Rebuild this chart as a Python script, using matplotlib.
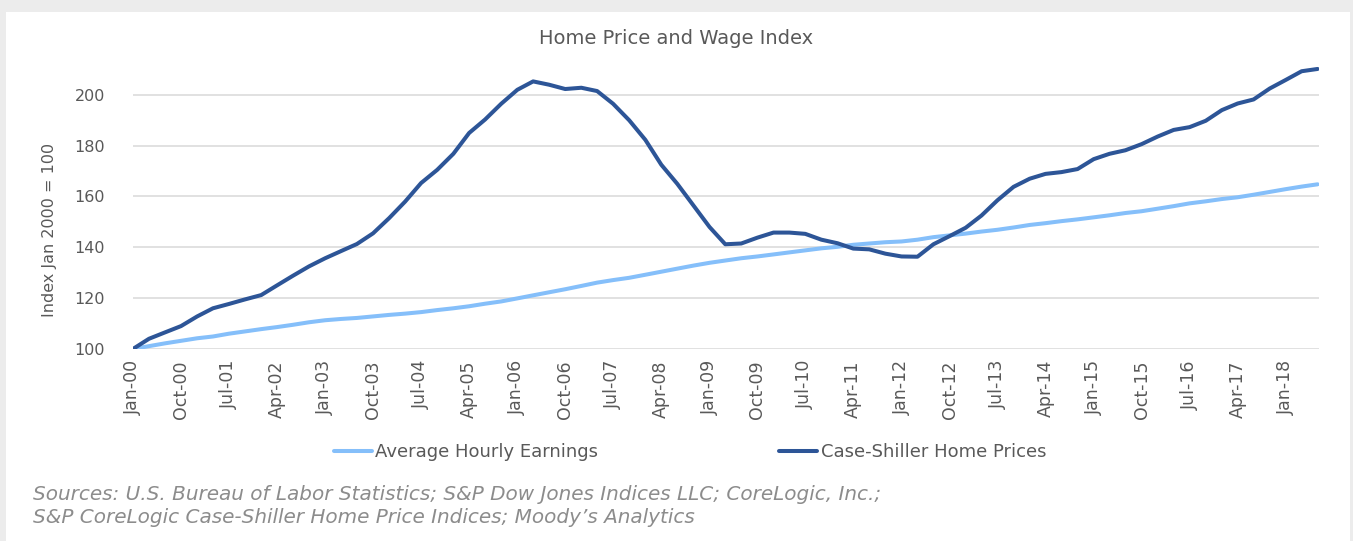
import numpy as np
import pandas as pd
import matplotlib
matplotlib.use('Agg')
import matplotlib.pyplot as plt
import matplotlib.dates as mdates
from matplotlib.patches import Rectangle

# quarterly readings, Jan 2000 .. Jul 2018
dates = pd.date_range('2000-01-01', '2018-07-01', freq='3MS')

case_shiller = [
    100.0, 104.0, 106.5, 109.0, 112.8, 116.0, 117.7, 119.5, 121.2, 125.0,
    128.8, 132.5, 135.7, 138.5, 141.3, 145.5, 151.5, 158.0, 165.3, 170.5,
    176.8, 185.0, 190.3, 196.5, 202.0, 205.3, 204.0, 202.3, 202.8, 201.5,
    196.5, 190.0, 182.3, 172.5, 165.0, 156.5, 148.0, 141.2, 141.5, 143.8,
    145.8, 145.8, 145.3, 143.0, 141.6, 139.5, 139.2, 137.5, 136.4, 136.3,
    141.2, 144.4, 147.7, 152.5, 158.5, 163.8, 167.0, 168.9, 169.6, 170.8,
    174.7, 176.8, 178.2, 180.6, 183.6, 186.2, 187.3, 189.8, 194.0, 196.6,
    198.2, 202.5, 205.9, 209.3, 210.2,
]

hourly_earnings = [
    100.0, 101.1, 102.2, 103.2, 104.2, 104.9, 106.0, 106.9, 107.8, 108.6,
    109.5, 110.5, 111.3, 111.8, 112.2, 112.8, 113.4, 113.9, 114.5, 115.3,
    116.0, 116.8, 117.8, 118.7, 119.9, 121.1, 122.3, 123.5, 124.8, 126.1,
    127.1, 128.0, 129.2, 130.4, 131.6, 132.8, 133.9, 134.8, 135.7, 136.4,
    137.2, 138.0, 138.8, 139.6, 140.2, 141.0, 141.5, 142.0, 142.3, 143.0,
    144.0, 144.7, 145.4, 146.2, 146.9, 147.8, 148.8, 149.5, 150.3, 151.0,
    151.8, 152.6, 153.5, 154.2, 155.2, 156.2, 157.3, 158.1, 159.0, 159.7,
    160.7, 161.8, 162.9, 163.9, 164.8,
]

series_names = ['Average Hourly Earnings', 'Case-Shiller Home Prices']
tick_dates = pd.date_range('2000-01-01', '2018-01-01', freq='9MS')
y_ticks = [100, 120, 140, 160, 180, 200]

title = 'Home Price and Wage Index'
y_label = 'Index Jan 2000 = 100'
sources = ('Sources: U.S. Bureau of Labor Statistics; S&P Dow Jones Indices LLC; CoreLogic, Inc.;\n'
           'S&P CoreLogic Case-Shiller Home Price Indices; Moody\u2019s Analytics')

light = '#85bffa'
dark = '#2d5597'
txt = '#595959'

fig = plt.figure(figsize=(13.53, 5.41), dpi=100, facecolor='#ececec')
card = Rectangle((6 / 1353, 0), 1344 / 1353, 529 / 541, transform=fig.transFigure,
                 facecolor='white', edgecolor='none', zorder=-5)
fig.add_artist(card)

ax = fig.add_axes([133 / 1353, 0.355, (1319 - 133) / 1353, 0.526])
ax.set_zorder(2)
ax.set_facecolor('white')
ax.plot(dates, hourly_earnings, color=light, lw=2.9, label=series_names[0],
        solid_capstyle='round', solid_joinstyle='round')
ax.plot(dates, case_shiller, color=dark, lw=2.9, label=series_names[1],
        solid_capstyle='round', solid_joinstyle='round')

ax.set_ylim(100, 212)
ax.set_yticks(y_ticks)
ax.set_xlim(dates[0], dates[-1] + pd.Timedelta(days=8))
ax.set_xticks(tick_dates)
ax.xaxis.set_major_formatter(mdates.DateFormatter('%b-%y'))
ax.grid(axis='y', color='#d9d9d9', lw=1.1)
ax.set_axisbelow(True)
for s in ax.spines.values():
    s.set_visible(False)
ax.tick_params(axis='y', length=0, colors=txt, labelsize=11.5, pad=20)
ax.tick_params(axis='x', length=0, colors=txt, labelsize=12.5, pad=8)
for lab in ax.get_xticklabels():
    lab.set_rotation(90)

fig.text(676 / 1353, 1 - 38 / 541, title, ha='center', va='center',
         fontsize=14, color=txt)
fig.text(50 / 1353, 1 - 230 / 541, y_label, rotation=90, ha='center', va='center',
         fontsize=11.5, color=txt)

fig.legend(loc='center', bbox_to_anchor=(690 / 1353, 1 - 452 / 541), ncol=2,
           frameon=False, fontsize=13, labelcolor=txt, handlelength=2.1,
           handletextpad=0.2, columnspacing=10)

fig.text(33 / 1353, 1 - 506 / 541, sources, ha='left', va='center',
         fontsize=14.4, color='#8c8c8c', style='italic', linespacing=1.3)

fig.savefig('out.png', dpi=100, facecolor=fig.get_facecolor())
